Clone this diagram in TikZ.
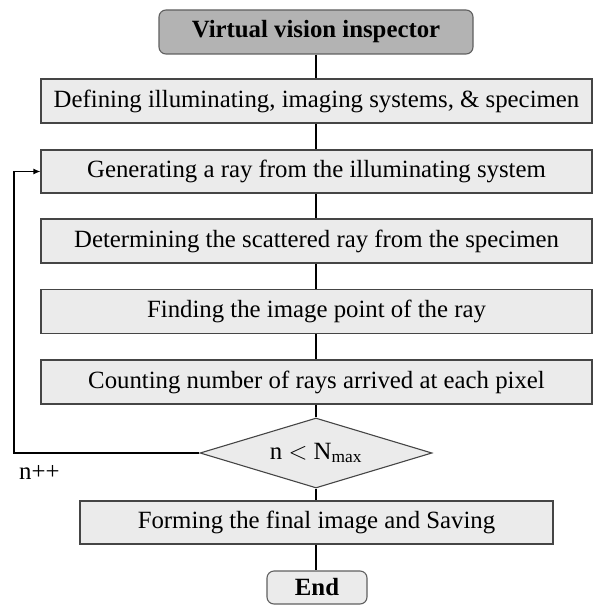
\documentclass[tikz,border=0pt]{standalone}
\usepackage{fontspec}
\setmainfont{Liberation Serif}
\usetikzlibrary{shapes.geometric,arrows.meta}

\definecolor{boxfill}{HTML}{EBEBEB}
\definecolor{titlefill}{HTML}{B3B3B3}
\definecolor{boxedge}{HTML}{454545}
\definecolor{titleedge}{HTML}{606060}

\tikzset{
  labelfont/.style={font=\fontsize{24.8}{28}\selectfont},
  stepbox/.style={draw=boxedge, fill=boxfill, line width=1.1pt,
    minimum width=551pt, minimum height=44pt, inner sep=0pt, labelfont},
  termbox/.style={draw=titleedge, line width=1.1pt, rounded corners=7pt,
    inner sep=0pt, font=\fontsize{24.8}{28}\selectfont\bfseries},
  testbox/.style={draw=boxedge, fill=boxfill, line width=1.1pt, diamond,
    shape aspect=3.3, minimum width=232pt, minimum height=70pt, inner sep=0pt,
    labelfont},
  flow/.style={line width=1.3pt, black},
}

\begin{document}
\begin{tikzpicture}[x=1pt, y=-1pt]
  \useasboundingbox (0,0) rectangle (594,607);

  % process chain
  \node[termbox, fill=titlefill, minimum width=314pt, minimum height=44pt] (start) at (316,32) {Virtual vision inspector};
  \node[stepbox] (define) at (316.5,101) {Defining illuminating, imaging systems, \& specimen};
  \node[stepbox, minimum height=43pt] (ray) at (316.5,171.5) {Generating a ray from the illuminating system};
  \node[stepbox] (scatter) at (316.5,241) {Determining the scattered ray from the specimen};
  \node[stepbox] (image) at (316.5,311.5) {Finding the image point of the ray};
  \node[stepbox] (count) at (316.5,382) {Counting number of rays arrived at each pixel};
  \node[testbox] (test) at (316,453) {n $<$ N\textsubscript{max}};
  \node[stepbox, minimum width=473pt, minimum height=43pt] (form) at (316.5,522.5) {Forming the final image and Saving};
  \node[termbox, fill=boxfill, minimum width=100pt, minimum height=33pt] (finish) at (317,587.5) {End};

  % straight links
  \draw[flow] (start.south) -- (start.south |- define.north);
  \draw[flow] (define.south -| start.south) -- (start.south |- ray.north);
  \draw[flow] (ray.south -| start.south) -- (start.south |- scatter.north);
  \draw[flow] (scatter.south -| start.south) -- (start.south |- image.north);
  \draw[flow] (image.south -| start.south) -- (start.south |- count.north);
  \draw[flow] (count.south -| test.north) -- (test.north);
  \draw[flow] (test.south) -- (test.south |- form.north);
  \draw[flow] (form.south -| test.south) -- (test.south |- finish.north);

  % loop back for the next ray
  \coordinate (loopx) at (14,453);
  \draw[flow, -{Latex[length=7pt,width=6pt]}] (test.west) -- (loopx) |- (ray.west);
  \node[labelfont, anchor=west, inner sep=0pt] (incr) at (19,472) {n++};
\end{tikzpicture}
\end{document}
